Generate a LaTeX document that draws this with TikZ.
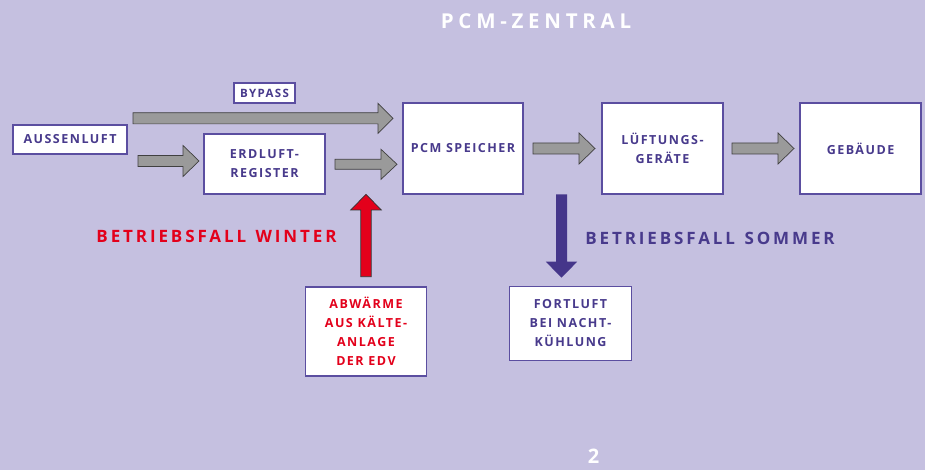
\documentclass[tikz,border=0pt]{standalone}
\usepackage{fontspec}
\setmainfont{Open Sans}
\newfontfamily\lsfont[LetterSpace=12]{Open Sans}
\newfontfamily\titlefont[LetterSpace=23]{Open Sans}
\newfontfamily\labelfont[LetterSpace=17, WordSpace=1.3]{Open Sans}
\definecolor{bg}{HTML}{C5C0E0}
\definecolor{ink}{HTML}{483A8C}
\definecolor{frame}{HTML}{5B4EA0}
\definecolor{winter}{HTML}{E3001B}
\definecolor{sommer}{HTML}{45368A}
\definecolor{arrowgrey}{HTML}{9A9A9A}
\newcommand{\harrow}[6]{% x1, base, tip, ymid, shaft half, head half
  \draw[greyarrow] (#1,#4-#5) -- (#2,#4-#5) -- (#2,#4-#6) -- (#3,#4) -- (#2,#4+#6) -- (#2,#4+#5) -- (#1,#4+#5) -- cycle;}
\tikzset{
  box/.style={draw=frame, line width=1.3pt, fill=white, inner sep=0pt, align=center,
     font=\lsfont\bfseries\fontsize{12.5}{19}\selectfont, text=ink},
  greyarrow/.style={fill=arrowgrey, draw=black!75, line width=0.7pt, line join=miter},
  caselabel/.style={font=\labelfont\bfseries\fontsize{17}{20}\selectfont},
}
\begin{document}
\begin{tikzpicture}[x=1pt,y=-1pt]
\fill[bg] (0,0) rectangle (925,470);
\useasboundingbox (0,0) rectangle (925,470);
% title and page number
\node[text=white, font=\titlefont\bfseries\fontsize{20.5}{24}\selectfont] (title) at (536,21) {PCM-ZENTRAL};
\node[text=white, font=\bfseries\fontsize{20}{22}\selectfont] (page) at (593.5,456.5) {2};
% boxes
\node[box, minimum width=114pt, minimum height=29pt] (aussen) at (70,139.5) {AUSSENLUFT};
\node[box, minimum width=61pt, minimum height=20pt, font=\lsfont\bfseries\fontsize{11.5}{14}\selectfont] (bypass) at (264.5,93) {BYPASS};
\node[box, minimum width=121pt, minimum height=60pt] (erd) at (264.5,164) {ERDLUFT-\\REGISTER};
\node[box, minimum width=120pt, minimum height=91pt] (pcm) at (463,148.5) {PCM SPEICHER};
\node[box, minimum width=121pt, minimum height=91pt] (lueft) at (662.5,148.5) {LÜFTUNGS-\\GERÄTE};
\node[box, minimum width=121pt, minimum height=91pt] (geb) at (860.5,148.5) {GEBÄUDE};
\node[box, minimum width=121pt, minimum height=89pt, text=winter] (abw) at (366,331.5) {ABWÄRME\\AUS KÄLTE-\\ANLAGE\\DER EDV};
\node[box, minimum width=122pt, minimum height=74pt] (fort) at (570.5,323.5) {FORTLUFT\\BEI NACHT-\\KÜHLUNG};
% labels
\node[caselabel, text=winter] (lwinter) at (216.5,236) {BETRIEBSFALL WINTER};
\node[caselabel, text=ink] (lsommer) at (710,238) {BETRIEBSFALL SOMMER};
% grey block arrows
\harrow{133}{378}{393}{118.3}{5.6}{15}
\harrow{138}{183}{199}{161}{5.5}{15.5}
\harrow{335}{381}{397}{164.3}{5}{15}
\harrow{533}{579}{595}{148.5}{5.5}{15.5}
\harrow{732}{778}{794}{148.5}{5.5}{15.5}
% red arrow up (winter)
\draw[fill=winter, draw=black!80, line width=0.7pt, line join=miter]
  (360.8,276.7) -- (360.8,210) -- (350.7,210) -- (366,194.3) -- (381.3,210) -- (371.2,210) -- (371.2,276.7) -- cycle;
% blue arrow down (summer)
\fill[sommer]
  (556,194.3) -- (567,194.3) -- (567,261.7) -- (577.2,261.7) -- (561.5,277.7) -- (545.8,261.7) -- (556,261.7) -- cycle;
\end{tikzpicture}
\end{document}
